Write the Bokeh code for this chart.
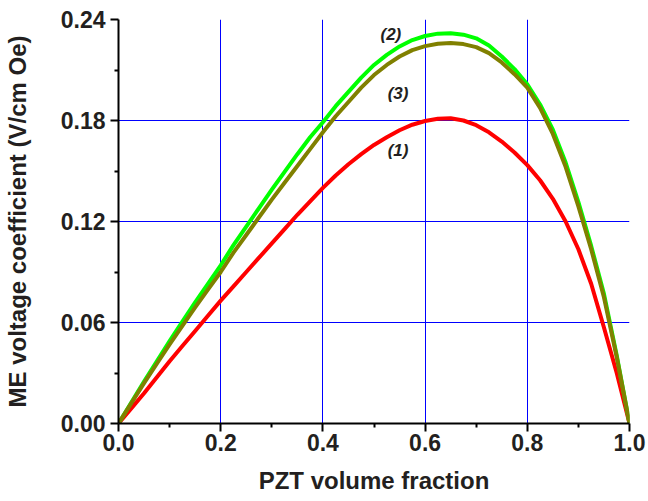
from bokeh.plotting import figure
from bokeh.models import ColumnDataSource, FixedTicker, PrintfTickFormatter, Range1d
from bokeh.core.properties import value
from bokeh.embed import file_html
from bokeh.resources import INLINE

# PZT volume fraction samples
x_frac = [0.0, 0.025, 0.05, 0.075, 0.1, 0.125, 0.15, 0.175, 0.2, 0.225, 0.25,
          0.275, 0.3, 0.325, 0.35, 0.375, 0.4, 0.425, 0.45, 0.475, 0.5,
          0.525, 0.55, 0.575, 0.6, 0.625, 0.65, 0.675, 0.7, 0.725, 0.75,
          0.775, 0.8, 0.825, 0.85, 0.875, 0.9, 0.925, 0.95, 0.975, 1.0]
# (1) red
me_1 = [0.0, 0.009, 0.018, 0.0275, 0.037, 0.046, 0.055, 0.064, 0.073, 0.0815, 0.090,
        0.0985, 0.107, 0.1155, 0.124, 0.132, 0.140, 0.1473, 0.154, 0.160, 0.1655,
        0.170, 0.1742, 0.1775, 0.1797, 0.1810, 0.1813, 0.1800, 0.1772, 0.1730, 0.1675,
        0.1610, 0.1535, 0.1445, 0.1335, 0.1200, 0.1035, 0.0830, 0.0570, 0.0300, 0.0]
# (2) green
me_2 = [0.0, 0.0125, 0.025, 0.037, 0.049, 0.0605, 0.072, 0.083, 0.094, 0.106, 0.117,
        0.128, 0.139, 0.1495, 0.160, 0.170, 0.179, 0.1885, 0.197, 0.2055, 0.213,
        0.219, 0.2240, 0.2278, 0.2302, 0.2316, 0.2318, 0.2310, 0.2288, 0.2245, 0.2180,
        0.2105, 0.2015, 0.1895, 0.1745, 0.1550, 0.1315, 0.1055, 0.0770, 0.0405, 0.0]
# (3) olive
me_3 = [0.0, 0.012, 0.024, 0.0355, 0.047, 0.058, 0.069, 0.0795, 0.090, 0.1015, 0.112,
        0.1225, 0.133, 0.143, 0.153, 0.163, 0.173, 0.1825, 0.191, 0.1995, 0.207,
        0.213, 0.218, 0.2218, 0.2242, 0.2256, 0.2260, 0.2254, 0.2236, 0.2200, 0.2145,
        0.2075, 0.1995, 0.1875, 0.1720, 0.1525, 0.1290, 0.1035, 0.0750, 0.0395, 0.0]

x_ticks = [0.0, 0.2, 0.4, 0.6, 0.8, 1.0]
x_minor = [0.1, 0.3, 0.5, 0.7, 0.9]
y_ticks = [0.0, 0.06, 0.12, 0.18, 0.24]
y_minor = [0.03, 0.09, 0.15, 0.21]

label_text = ["(2)", "(3)", "(1)"]
label_x = [0.533, 0.547, 0.547]
label_y = [0.2311, 0.1962, 0.1622]

FONT = "Liberation Sans"
TXT = "#231f20"

p = figure(width=648, height=501, output_backend="svg", toolbar_location=None,
           x_range=Range1d(0, 1.0), y_range=Range1d(0, 0.24),
           min_border_left=116, min_border_right=19, min_border_top=19,
           min_border_bottom=78)
p.outline_line_color = None
p.background_fill_color = "white"
p.border_fill_color = "white"

for ax, ticks, minor, fmt in ((p.xaxis[0], x_ticks, x_minor, "%.1f"),
                              (p.yaxis[0], y_ticks, y_minor, "%.2f")):
    ax.ticker = FixedTicker(ticks=ticks, minor_ticks=minor)
    ax.formatter = PrintfTickFormatter(format=fmt)
    ax.axis_line_color = "black"
    ax.axis_line_width = 2
    ax.major_tick_line_color = "black"
    ax.major_tick_line_width = 2
    ax.minor_tick_line_color = "black"
    ax.minor_tick_line_width = 2
    ax.major_tick_out = 8
    ax.major_tick_in = 0
    ax.minor_tick_out = 4
    ax.minor_tick_in = 0
    ax.major_label_text_font = FONT
    ax.major_label_text_font_style = "bold"
    ax.major_label_text_font_size = "23px"
    ax.major_label_text_color = TXT
    ax.axis_label_text_font = FONT
    ax.axis_label_text_font_style = "bold"
    ax.axis_label_text_font_size = "24px"
    ax.axis_label_text_color = TXT

p.xaxis.axis_label = "PZT volume fraction"
p.yaxis.axis_label = "ME voltage coefficient (V/cm Oe)"
p.xaxis.major_label_standoff = 2
p.yaxis.major_label_standoff = 5
p.xaxis.axis_label_standoff = 13
p.yaxis.axis_label_standoff = 27

p.xgrid.ticker = FixedTicker(ticks=[0.2, 0.4, 0.6, 0.8])
p.ygrid.ticker = FixedTicker(ticks=[0.06, 0.12, 0.18])
for g in (p.xgrid[0], p.ygrid[0]):
    g.grid_line_color = "#0000ff"
    g.grid_line_width = 1

src = ColumnDataSource(dict(x=x_frac, y1=me_1, y2=me_2, y3=me_3))
p.line("x", "y1", source=src, line_color="#ff0000", line_width=4, line_join="round")
p.line("x", "y2", source=src, line_color="#00ff00", line_width=4, line_join="round")
p.line("x", "y3", source=src, line_color="#808000", line_width=4, line_join="round")

lab = ColumnDataSource(dict(x=label_x, y=label_y, t=label_text))
p.text("x", "y", text="t", source=lab, text_font=value(FONT),
       text_font_style="bold italic", text_font_size="17px", text_color=TXT,
       text_align="center", text_baseline="middle")

open("out.html", "w").write(file_html(p, INLINE))
